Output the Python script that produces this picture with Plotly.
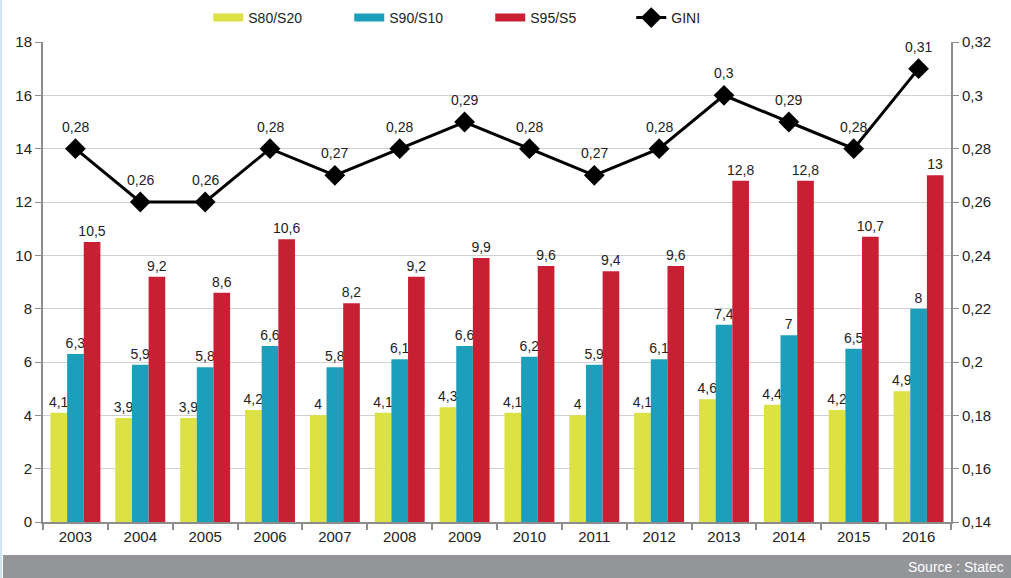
import plotly.graph_objects as go

years = ["2003", "2004", "2005", "2006", "2007", "2008", "2009", "2010",
         "2011", "2012", "2013", "2014", "2015", "2016"]
s80_s20 = [4.1, 3.9, 3.9, 4.2, 4.0, 4.1, 4.3, 4.1, 4.0, 4.1, 4.6, 4.4, 4.2, 4.9]
s90_s10 = [6.3, 5.9, 5.8, 6.6, 5.8, 6.1, 6.6, 6.2, 5.9, 6.1, 7.4, 7.0, 6.5, 8.0]
s95_s5 = [10.5, 9.2, 8.6, 10.6, 8.2, 9.2, 9.9, 9.6, 9.4, 9.6, 12.8, 12.8, 10.7, 13.0]
gini = [0.28, 0.26, 0.26, 0.28, 0.27, 0.28, 0.29, 0.28, 0.27, 0.28, 0.30, 0.29, 0.28, 0.31]


def fmt(v):
    return ("%g" % v).replace(".", ",")


FONT = "Liberation Sans, Arial, sans-serif"
fig = go.Figure()
series = [("S80/S20", s80_s20, "#DCE244"),
          ("S90/S10", s90_s10, "#1C9FBA"),
          ("S95/S5", s95_s5, "#C81F32")]
for name, vals, col in series:
    fig.add_trace(go.Bar(
        x=years, y=vals, name=name, marker=dict(color=col, line=dict(width=0)),
        text=[fmt(v) for v in vals], textposition="outside", constraintext="none",
        textfont=dict(size=14, color="#222222", family=FONT),
        cliponaxis=False, showlegend=False,
    ))

# legend-only entries with wide rectangular swatches
for name, vals, col in series:
    fig.add_trace(go.Scatter(
        x=[None], y=[None], name=name, mode="lines",
        line=dict(color=col, width=8), showlegend=True,
    ))

fig.add_trace(go.Scatter(
    x=years, y=gini, name="GINI", yaxis="y2", mode="lines+markers",
    line=dict(color="black", width=3),
    marker=dict(symbol="diamond", size=16, color="black"),
    cliponaxis=False,
))

# GINI value labels (category index positions on the category axis)
for i, g in enumerate(gini):
    fig.add_annotation(x=i, y=g, xref="x", yref="y2", text=fmt(g), showarrow=False,
                       yshift=22, font=dict(size=14, color="#222222", family=FONT))

fig.update_layout(
    width=1011, height=578,
    margin=dict(l=43, r=60, t=42, b=56, autoexpand=False),
    paper_bgcolor="white", plot_bgcolor="white",
    font=dict(family=FONT, size=15, color="#222222"),
    barmode="group", bargap=0.23, bargroupgap=0,
    legend=dict(orientation="h", x=0.182, xanchor="left", y=1.05, yanchor="middle",
                font=dict(size=14), itemwidth=30, traceorder="normal",
                entrywidthmode="pixels", entrywidth=96),
    xaxis=dict(type="category", categoryorder="array", categoryarray=years,
               range=[-0.5, len(years) - 0.5], autorange=False,
               showline=True, linecolor="#8c8c8c", linewidth=2,
               ticks="outside", tickson="boundaries", ticklen=6, tickcolor="#8c8c8c",
               tickwidth=2, showgrid=False, tickfont=dict(size=15), tickangle=0),
    yaxis=dict(range=[0, 18], dtick=2, showline=True, linecolor="#8c8c8c", linewidth=2,
               ticks="outside", ticklen=6, tickcolor="#8c8c8c", tickwidth=1,
               showgrid=True, gridcolor="#d0d0d0", gridwidth=1, zeroline=False,
               tickfont=dict(size=15)),
    yaxis2=dict(range=[0.14, 0.32], dtick=0.02, overlaying="y", side="right",
                showline=True, linecolor="#8c8c8c", linewidth=2,
                ticks="outside", ticklen=6, tickcolor="#8c8c8c", tickwidth=1,
                showgrid=False, zeroline=False, tickfont=dict(size=15),
                tickformat=".2~f"),
    separators=", ",
    showlegend=True,
)

fig.add_shape(type="rect", xref="paper", yref="paper", x0=-40/908, x1=1+60/908,
              y0=-56/480, y1=-33/480, fillcolor="#939598", line=dict(width=0), layer="below")
fig.add_shape(type="rect", xref="paper", yref="paper", x0=-43/908, x1=-41/908,
              y0=-56/480, y1=1 + 42/480, fillcolor="#cfe3f2", line=dict(width=0), layer="below")
fig.add_annotation(text="Source : Statec", xref="paper", yref="paper",
                   x=1+55/908, y=-44.5/480, xanchor="right", yanchor="middle",
                   showarrow=False, font=dict(size=14, color="white", family=FONT))

fig.write_html("out.html", config={"displayModeBar": False},
               post_script="document.body.style.margin='0';document.body.style.overflow='hidden';")
